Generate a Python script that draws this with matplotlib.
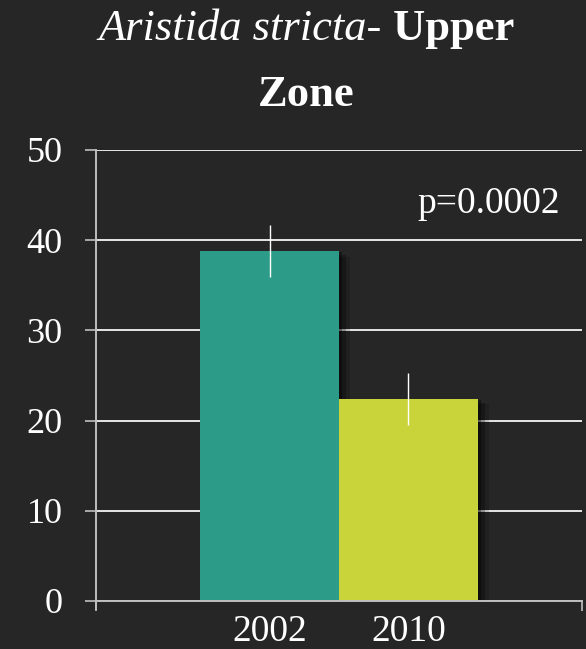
import numpy as np
import matplotlib
matplotlib.use("Agg")
import matplotlib.pyplot as plt
import matplotlib.patheffects as pe

# data
years = ["2002", "2010"]
means = [38.8, 22.4]
errs = [2.85, 2.85]
colors = ["#2c9b87", "#c9d33a"]
yticks = [0, 10, 20, 30, 40, 50]
p_text = "p=0.0002"

bg = "#262626"
plt.rcParams["font.family"] = ["Liberation Serif", "DejaVu Serif"]

fig = plt.figure(figsize=(5.86, 6.49), dpi=100, facecolor=bg)
ax = fig.add_axes([0.1638, 0.0740, 0.8294, 0.6949])
ax.set_facecolor(bg)

x = np.arange(len(years))
shadow = [pe.SimplePatchShadow(offset=(8, -4), shadow_rgbFace="black", alpha=0.15),
          pe.SimplePatchShadow(offset=(5, -3), shadow_rgbFace="black", alpha=0.25),
          pe.SimplePatchShadow(offset=(2, -1), shadow_rgbFace="black", alpha=0.35),
          pe.Normal()]
bars = ax.bar(x, means, width=1.0, color=colors, zorder=3)
for b in bars:
    b.set_path_effects(shadow)
ax.errorbar(x, means, yerr=errs, fmt="none", ecolor="white", elinewidth=1.0,
            capsize=0, zorder=4)

ax.set_xlim(-1.25, 2.25)
ax.set_ylim(0, 50)
ax.set_yticks(yticks)
ax.set_yticklabels([str(v) for v in yticks])
ax.yaxis.grid(True, color="#e6e6e6", lw=1.4, zorder=1)
ax.set_axisbelow(True)

ax.set_xticks(x)
ax.set_xticklabels(years)
ax.set_xticks([-1.25, 2.25], minor=True)
ax.tick_params(axis="x", which="major", length=0, pad=10, labelsize=27, colors="white")
ax.tick_params(axis="x", which="minor", length=7, width=1.2, color="#bfbfbf", direction="out")
ax.tick_params(axis="y", length=8, width=1.2, color="#bfbfbf", pad=16, labelsize=26,
               labelcolor="white")

for s in ["top", "right"]:
    ax.spines[s].set_visible(False)
ax.spines["left"].set_color("#bfbfbf")
ax.spines["left"].set_linewidth(1.4)
ax.spines["left"].set_bounds(-0.9, 50)
ax.spines["bottom"].set_color("#bfbfbf")
ax.spines["bottom"].set_linewidth(1.4)
ax.spines["left"].set_zorder(5)
ax.spines["bottom"].set_zorder(5)

ax.text(0.955, 43.0, p_text, transform=ax.get_yaxis_transform(), ha="right",
        va="baseline", fontsize=27, color="white")

# title: italic species name + bold rest, centered
fig.canvas.draw()
r = fig.canvas.get_renderer()
t1 = fig.text(0, 0, "Aristida stricta-", fontsize=32, style="italic", color="white")
t2 = fig.text(0, 0, " Upper", fontsize=32, weight="bold", color="white")
w1 = t1.get_window_extent(r).width
w2 = t2.get_window_extent(r).width
cx = 306
y1 = (649 - 40) / 649
x0 = cx - (w1 + w2) / 2
t1.set_position((x0 / 586, y1))
t2.set_position(((x0 + w1) / 586, y1))
fig.text(cx / 586, (649 - 106) / 649, "Zone", fontsize=32, weight="bold",
         color="white", ha="center")

fig.savefig("out.png", dpi=100, facecolor=bg)
